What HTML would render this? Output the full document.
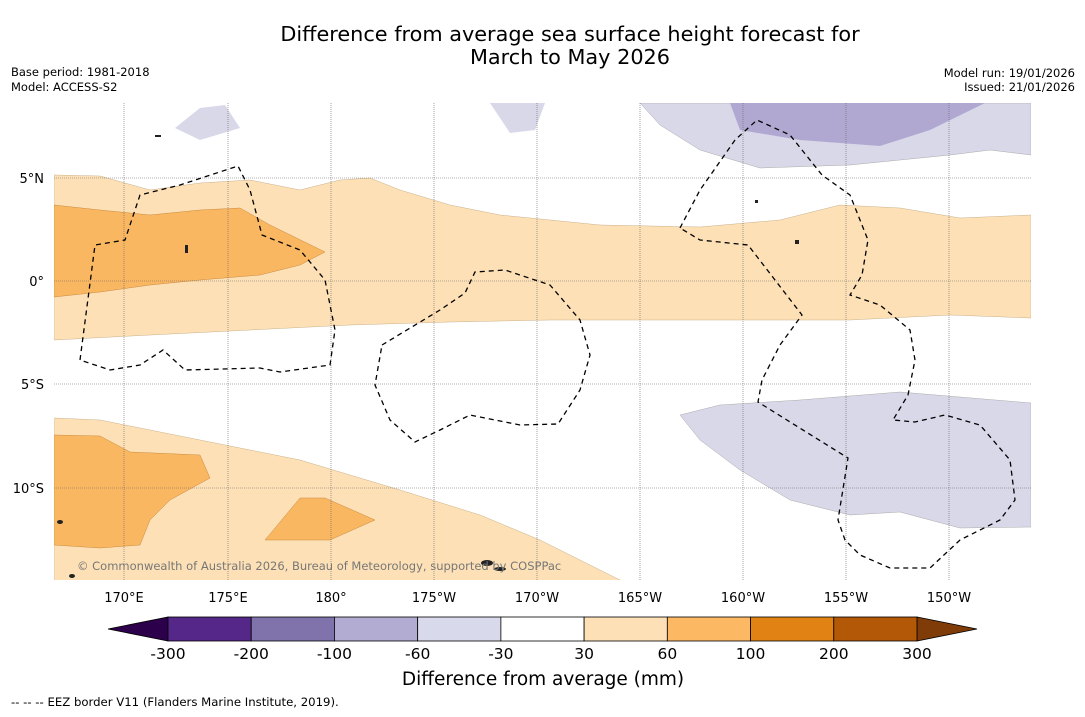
<!DOCTYPE html>
<html><head><meta charset="utf-8"><style>
body{margin:0;background:#fff;font-family:"DejaVu Sans",sans-serif}
svg text{font-family:"DejaVu Sans",sans-serif}
</style></head><body>
<svg width="1085" height="713" viewBox="0 0 1085 713">
<text x="570" y="41" font-size="20.8" text-anchor="middle">Difference from average sea surface height forecast for</text>
<text x="570" y="64" font-size="20.8" text-anchor="middle">March to May 2026</text>
<text x="11" y="76" font-size="11.5">Base period: 1981-2018</text>
<text x="11" y="91" font-size="11.5">Model: ACCESS-S2</text>
<text x="1075" y="77" font-size="11.5" text-anchor="end">Model run: 19/01/2026</text>
<text x="1075" y="91" font-size="11.5" text-anchor="end">Issued: 21/01/2026</text>
<g>
<clipPath id="c"><rect x="54" y="103" width="977" height="477"/></clipPath>
<g clip-path="url(#c)">
<polygon fill="#fde0b6" stroke="#c9b08a" stroke-width="0.5" points="54,175 100,176 150,190 200,183 250,180 300,190 340,180 370,178 400,190 450,205 500,215 600,225 700,227 780,220 840,205 900,208 960,218 1031,215 1031,318 950,315 850,320 700,320 550,320 450,322 350,325 250,330 150,335 54,340"/>
<polygon fill="#fab762" stroke="#c98a40" stroke-width="0.5" points="54,205 100,210 150,215 200,210 240,208 270,225 325,252 300,265 260,275 200,280 150,285 100,292 54,297"/>
<polygon fill="#fde0b6" stroke="#c9b08a" stroke-width="0.5" points="54,418 100,420 200,440 300,460 400,490 480,515 540,540 590,565 630,585 54,585"/>
<polygon fill="#fab762" stroke="#c98a40" stroke-width="0.5" points="54,435 100,436 130,452 200,455 210,478 170,500 150,520 140,545 100,548 54,545"/>
<polygon fill="#fab762" stroke="#c98a40" stroke-width="0.5" points="265,540 300,498 325,498 375,520 330,540"/>
<polygon fill="#d8d8e9" stroke="#aaa" stroke-width="0.5" points="640,103 660,125 700,150 760,168 850,165 950,155 990,150 1031,155 1031,103"/>
<polygon fill="#b0a8d0" points="730,103 740,130 800,140 880,146 930,130 985,103"/>
<polygon fill="#d8d8e9" points="175,128 200,108 225,105 240,128 200,140"/>
<polygon fill="#d8d8e9" points="490,103 545,103 535,130 510,133"/>
<polygon fill="#d8d8e9" stroke="#aaa" stroke-width="0.5" points="680,415 720,405 800,400 900,392 1031,403 1031,527 960,528 900,512 850,515 790,500 740,470 700,440"/>
<g stroke="#666" stroke-width="0.6" stroke-dasharray="1,1">
<line x1="124" y1="103" x2="124" y2="580"/><line x1="228" y1="103" x2="228" y2="580"/><line x1="331" y1="103" x2="331" y2="580"/><line x1="434" y1="103" x2="434" y2="580"/><line x1="537" y1="103" x2="537" y2="580"/><line x1="640" y1="103" x2="640" y2="580"/><line x1="743" y1="103" x2="743" y2="580"/><line x1="846" y1="103" x2="846" y2="580"/><line x1="949" y1="103" x2="949" y2="580"/>
<line x1="54" y1="178" x2="1031" y2="178"/><line x1="54" y1="281" x2="1031" y2="281"/><line x1="54" y1="384" x2="1031" y2="384"/><line x1="54" y1="488" x2="1031" y2="488"/>
</g>
<g fill="none" stroke="#000" stroke-width="1.3" stroke-dasharray="5,4">
<path d="M80,360 L95,245 L125,240 L140,195 L180,185 L238,166 L250,190 L262,235 L300,250 L325,280 L335,330 L330,365 L280,372 L260,368 L185,370 L163,350 L140,365 L110,370 Z"/>
<path d="M382,345 L440,310 L465,293 L475,272 L505,270 L550,285 L580,320 L590,355 L580,390 L558,424 L520,425 L470,415 L440,430 L415,442 L390,420 L375,385 Z"/>
<path d="M680,228 L700,190 L735,140 L757,120 L790,135 L822,175 L850,195 L868,240 L862,275 L850,295 L880,305 L910,330 L915,360 L908,395 L893,420 L915,422 L945,415 L980,425 L1010,460 L1015,500 L1000,520 L960,540 L930,568 L890,568 L860,555 L845,540 L838,520 L848,458 L758,402 L762,380 L780,345 L802,315 L775,280 L748,245 L700,240 Z"/>
</g>
<g fill="#222">
<ellipse cx="487" cy="563" rx="6" ry="3"/><ellipse cx="500" cy="569" rx="6" ry="2"/><ellipse cx="60" cy="522" rx="3" ry="2"/><ellipse cx="72" cy="576" rx="3" ry="2"/><rect x="185" y="245" width="3" height="8"/><rect x="795" y="240" width="4" height="4"/><rect x="155" y="135" width="6" height="2"/><rect x="755" y="200" width="3" height="3"/>
</g>
<text x="77" y="570" font-size="11.5" fill="#777">© Commonwealth of Australia 2026, Bureau of Meteorology, supported by COSPPac</text>
</g>
</g>
<g font-size="13" text-anchor="end">
<text x="44" y="183">5°N</text><text x="44" y="286">0°</text><text x="44" y="389">5°S</text><text x="44" y="493">10°S</text>
</g>
<g font-size="13" text-anchor="middle">
<text x="124" y="602">170°E</text><text x="228" y="602">175°E</text><text x="331" y="602">180°</text><text x="434" y="602">175°W</text><text x="537" y="602">170°W</text><text x="640" y="602">165°W</text><text x="743" y="602">160°W</text><text x="846" y="602">155°W</text><text x="949" y="602">150°W</text>
</g>
<g id="cbar"></g>
<text x="543" y="685" font-size="18.5" text-anchor="middle">Difference from average (mm)</text>
<text x="11" y="706" font-size="11.7">--  --  -- EEZ border V11 (Flanders Marine Institute, 2019).</text>
</svg>
<script>
const levels=[-300,-200,-100,-60,-30,30,60,100,200,300];
const colors=["#542788","#8073ac","#b2abd2","#d8daeb","#ffffff","#fee0b6","#fdb863","#e08214","#b35806"];
const ns="http://www.w3.org/2000/svg";
const g=document.getElementById('cbar');
const x0=168,x1=917,y=617,h=24,w=(x1-x0)/colors.length;
function mk(t,a){const e=document.createElementNS(ns,t);for(const k in a)e.setAttribute(k,a[k]);g.appendChild(e);return e;}
const lt=mk('polygon',{points:`${x0},${y} ${x0},${y+h} 108,${y+h/2}`,fill:"#2d004b",stroke:"#000","stroke-width":0.8});


const rt=mk('polygon',{points:`${x1},${y} ${x1},${y+h} 977,${y+h/2}`,fill:"#7f3b08",stroke:"#000","stroke-width":0.8});


colors.forEach((c,i)=>{
const r=mk('rect',{x:x0+i*w,y:y,width:w,height:h,fill:c,stroke:"#000","stroke-width":0.8});


});
levels.forEach((v,i)=>{
const t=mk('text',{x:x0+i*w,y:659,"font-size":15.5,"text-anchor":"middle"});
t.textContent=v;


});
</script>
</body></html>
